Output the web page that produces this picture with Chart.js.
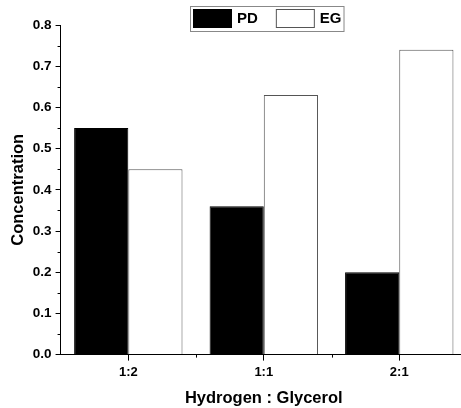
<!DOCTYPE html>
<html>
<head>
<meta charset="utf-8">
<script src="https://cdn.jsdelivr.net/npm/chart.js@4.4.1/dist/chart.umd.min.js"></script>
<style>
html, body { margin: 0; padding: 0; background: #fff; overflow: hidden; }
#marco { width: 461px; height: 408px; overflow: hidden; }
#contenedor { width: 470px; height: 408px; }
</style>
</head>
<body>
<div id="marco"><div id="contenedor"><canvas id="grafica"></canvas></div></div>
<script>
//Datos de la grafica
const categorias = ['1:2', '1:1', '2:1'];
const nombresSeries = ['PD', 'EG'];
const valoresPD = [0.55, 0.36, 0.20];
const valoresEG = [0.45, 0.63, 0.74];
const ticksY = [0, 0.1, 0.2, 0.3, 0.4, 0.5, 0.6, 0.7, 0.8];
const ticksMenoresY = [0.05, 0.15, 0.25, 0.35, 0.45, 0.55, 0.65, 0.75];

const fuente = "'Liberation Sans', Arial, sans-serif";
Chart.defaults.font.family = fuente;
Chart.defaults.color = '#000';

//Se dibujan las marcas menores de los ejes
const marcasMenores = {
    id: 'marcasMenores',
    afterDraw(chart) {
        const ctx = chart.ctx;
        const ejeY = chart.scales.y;
        const ejeX = chart.scales.x;
        const area = chart.chartArea;
        ctx.save();
        ctx.strokeStyle = '#000';
        ctx.lineWidth = 1;
        ctx.beginPath();
        ticksMenoresY.forEach(v => {
            const py = Math.round(ejeY.getPixelForValue(v)) + 0.5;
            ctx.moveTo(area.left - 3, py);
            ctx.lineTo(area.left, py);
        });
        for (let i = 0; i < categorias.length - 1; i++) {
            const px = Math.round((ejeX.getPixelForValue(i) + ejeX.getPixelForValue(i + 1)) / 2) + 0.5;
            ctx.moveTo(px, area.bottom);
            ctx.lineTo(px, area.bottom + 3);
        }
        ctx.stroke();
        ctx.restore();
    }
};

//Se dibuja la leyenda con su recuadro
const leyendaRecuadro = {
    id: 'leyendaRecuadro',
    afterDraw(chart) {
        const ctx = chart.ctx;
        ctx.save();
        ctx.font = 'bold 15px ' + fuente;
        ctx.textBaseline = 'middle';
        let x = 193;
        const y = 9;
        chart.data.datasets.forEach((ds, i) => {
            ctx.fillStyle = ds.backgroundColor;
            ctx.fillRect(x, y, 39, 19);
            ctx.strokeStyle = ds.borderColor;
            ctx.lineWidth = 1;
            ctx.strokeRect(x + 0.5, y + 0.5, 38, 18);
            x += 44;
            ctx.fillStyle = '#000';
            ctx.fillText(ds.label, x, y + 10);
            x += ctx.measureText(ds.label).width + (i < chart.data.datasets.length - 1 ? 18 : 2);
        });
        ctx.strokeStyle = '#888';
        ctx.strokeRect(190.5, 6.5, x - 190, 25);
        ctx.restore();
    }
};

window.onload = function () {
    const ctx = document.getElementById('grafica').getContext('2d');
    new Chart(ctx, {
        type: 'bar',
        data: {
            labels: categorias,
            datasets: [{
                label: nombresSeries[0],
                data: valoresPD,
                backgroundColor: '#000',
                borderColor: '#000',
                borderWidth: 1
            }, {
                label: nombresSeries[1],
                data: valoresEG,
                backgroundColor: '#fff',
                borderColor: '#555',
                borderWidth: 1
            }]
        },
        options: {
            responsive: true,
            maintainAspectRatio: false,
            animation: false,
            categoryPercentage: 0.8,
            barPercentage: 1.0,
            layout: { padding: { top: 25, right: 3, left: 9, bottom: 0 } },
            plugins: {
                legend: { display: false },
                tooltip: { enabled: false }
            },
            scales: {
                x: {
                    grid: { display: true, drawOnChartArea: false, offset: false, tickLength: 6, color: '#000' },
                    border: { color: '#000', width: 1 },
                    ticks: { font: { size: 13, weight: 'bold' }, padding: 4 },
                    title: { display: true, text: 'Hydrogen : Glycerol', font: { size: 16.5, weight: 'bold' }, padding: { top: 4, bottom: 0 } }
                },
                y: {
                    min: 0,
                    max: 0.8,
                    afterBuildTicks: eje => { eje.ticks = ticksY.map(v => ({ value: v })); },
                    grid: { display: true, drawOnChartArea: false, tickLength: 5, color: '#000' },
                    border: { color: '#000', width: 1 },
                    ticks: { font: { size: 13.5, weight: 'bold' }, padding: 4, callback: v => v.toFixed(1) },
                    title: { display: true, text: 'Concentration', font: { size: 16.5, weight: 'bold' }, padding: { top: 0, bottom: 0 } }
                }
            }
        },
        plugins: [marcasMenores, leyendaRecuadro]
    });
};
</script>
</body>
</html>
